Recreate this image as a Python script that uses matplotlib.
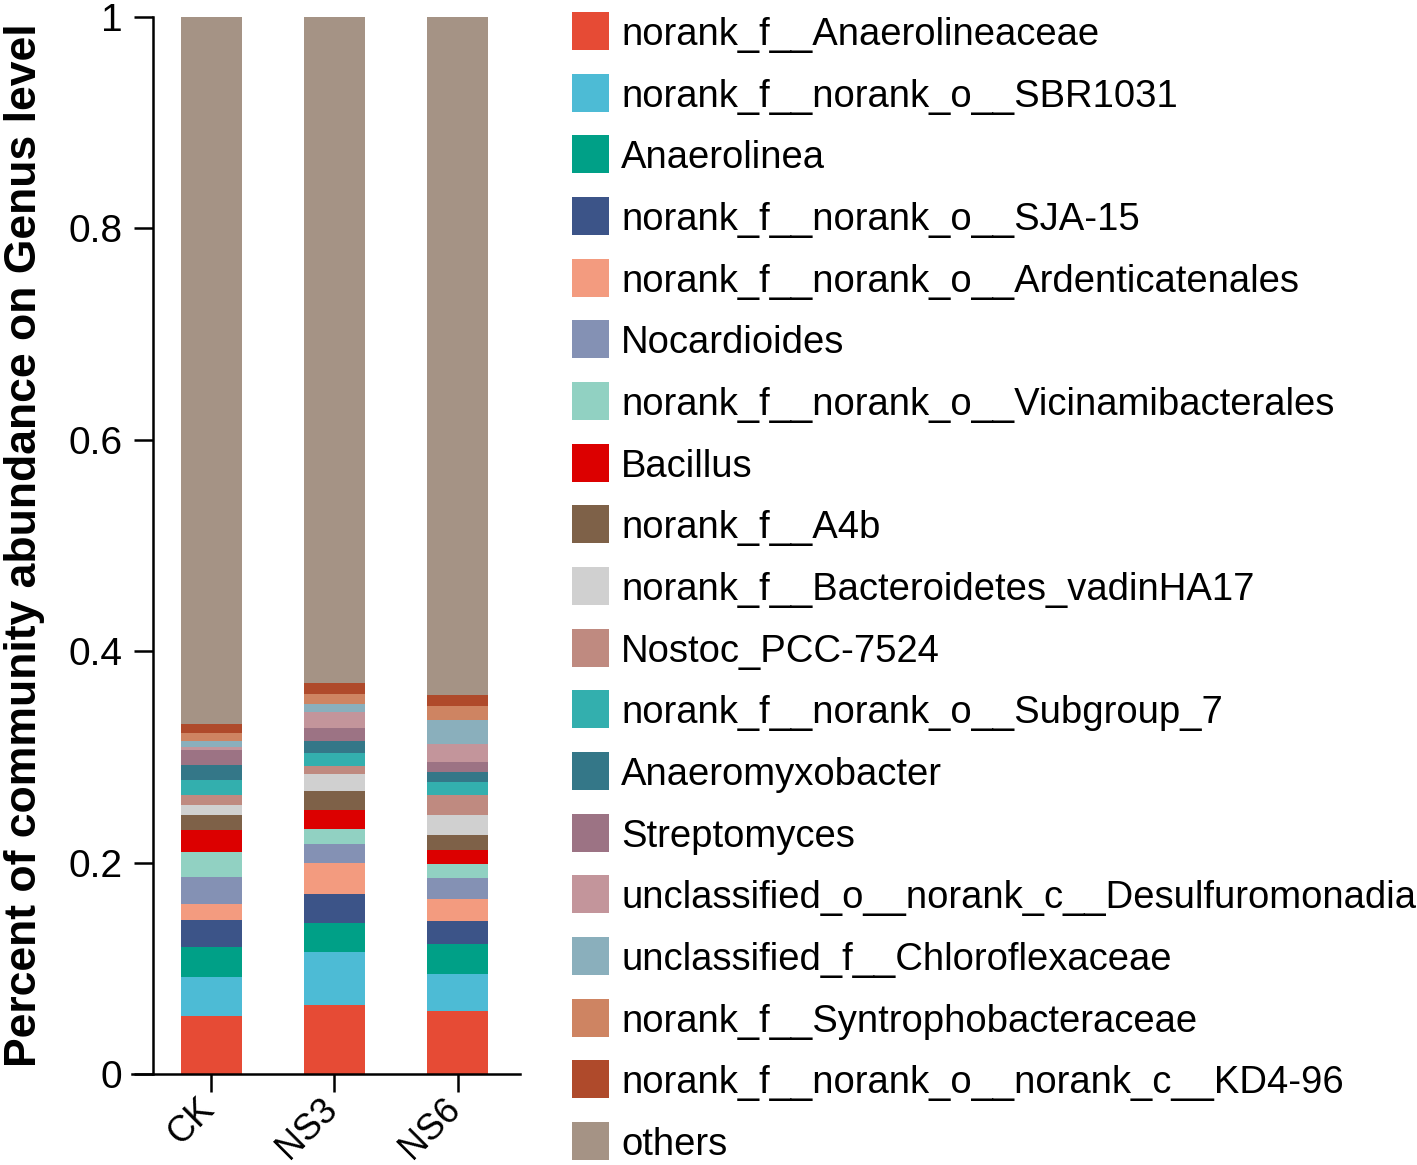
import matplotlib
matplotlib.use("Agg")
import matplotlib.pyplot as plt
from matplotlib.patches import Rectangle
import matplotlib.transforms as mtrans
import numpy as np

samples = ["CK", "NS3", "NS6"]
taxa = [
    "norank_f__Anaerolineaceae",
    "norank_f__norank_o__SBR1031",
    "Anaerolinea",
    "norank_f__norank_o__SJA-15",
    "norank_f__norank_o__Ardenticatenales",
    "Nocardioides",
    "norank_f__norank_o__Vicinamibacterales",
    "Bacillus",
    "norank_f__A4b",
    "norank_f__Bacteroidetes_vadinHA17",
    "Nostoc_PCC-7524",
    "norank_f__norank_o__Subgroup_7",
    "Anaeromyxobacter",
    "Streptomyces",
    "unclassified_o__norank_c__Desulfuromonadia",
    "unclassified_f__Chloroflexaceae",
    "norank_f__Syntrophobacteraceae",
    "norank_f__norank_o__norank_c__KD4-96",
    "others",
]
colors = [
    "#E64B35", "#4DBBD5", "#00A087", "#3C5488", "#F39B7F", "#8491B4",
    "#91D1C2", "#DC0000", "#7E6148", "#D0D0D0", "#BF8A80", "#33AFAE",
    "#347788", "#9C7384", "#C3959B", "#8AAFBC", "#CE8462", "#AF4A2B",
    "#A59385",
]
ck = [0.055, 0.037, 0.028, 0.026, 0.015, 0.025, 0.024, 0.021, 0.0137, 0.0095,
      0.0095, 0.014, 0.0145, 0.0145, 0.003, 0.005, 0.008, 0.0088]
ns3 = [0.065, 0.050, 0.028, 0.027, 0.030, 0.0176, 0.0145, 0.018, 0.0176, 0.0158,
       0.008, 0.012, 0.012, 0.0117, 0.0155, 0.007, 0.0095, 0.0107]
ns6 = [0.060, 0.0346, 0.0284, 0.0218, 0.0205, 0.020, 0.0135, 0.0133, 0.0144, 0.0183,
       0.019, 0.0126, 0.0091, 0.0095, 0.0173, 0.0228, 0.013, 0.010]

data = np.array([ck + [1 - sum(ck)], ns3 + [1 - sum(ns3)], ns6 + [1 - sum(ns6)]]).T

plt.rcParams['font.family'] = ['Liberation Sans', 'DejaVu Sans']

W, H = 1417, 1165
fig = plt.figure(figsize=(W / 100, H / 100), dpi=100)
ax = fig.add_axes([132 / W, 1 - 1074 / H, (520 - 132) / W, (1074 - 17) / H])

x = np.arange(len(samples))
bottom = np.zeros(len(samples))
for i, t in enumerate(taxa):
    ax.bar(x, data[i], bottom=bottom, width=0.5, color=colors[i], edgecolor='none', linewidth=0)
    bottom += data[i]

ax.set_xlim(-0.646, 2.508)
ax.set_ylim(0, 1)
ax.spines['top'].set_visible(False)
ax.spines['right'].set_visible(False)
ax.spines['left'].set_position(('data', -0.476))
ax.spines['left'].set_linewidth(1.8)
ax.spines['bottom'].set_linewidth(1.8)
ax.set_yticks([0, 0.2, 0.4, 0.6, 0.8, 1.0])
ax.set_yticklabels(["0", "0.2", "0.4", "0.6", "0.8", "1"], fontsize=28)
ax.tick_params(axis='y', length=14, width=1.8, pad=8)
ax.tick_params(axis='x', length=13, width=1.8, pad=13)
ax.set_xticks(x)
ax.set_xticklabels(samples, fontsize=26, rotation=45, ha='right', va='baseline', rotation_mode='anchor')
off = mtrans.ScaledTranslation(4.5 / 100, 0, fig.dpi_scale_trans)
for lbl in ax.get_xticklabels():
    lbl.set_transform(lbl.get_transform() + off)

fig.text(25 / W, 1 - 545 / H, "Percent of community abundance on Genus level",
         rotation=90, fontsize=32, fontweight='bold', ha='center', va='center')

# legend
y0 = 31
dy = 61.67
for i, t in enumerate(taxa):
    yc = y0 + i * dy
    fig.add_artist(Rectangle((572 / W, 1 - (yc + 19) / H), 37 / W, 38 / H,
                             transform=fig.transFigure, facecolor=colors[i], edgecolor='none'))
    fig.text(621 / W, 1 - yc / H, t, fontsize=27.5, ha='left', va='center_baseline')

fig.savefig("out.png", dpi=100)
